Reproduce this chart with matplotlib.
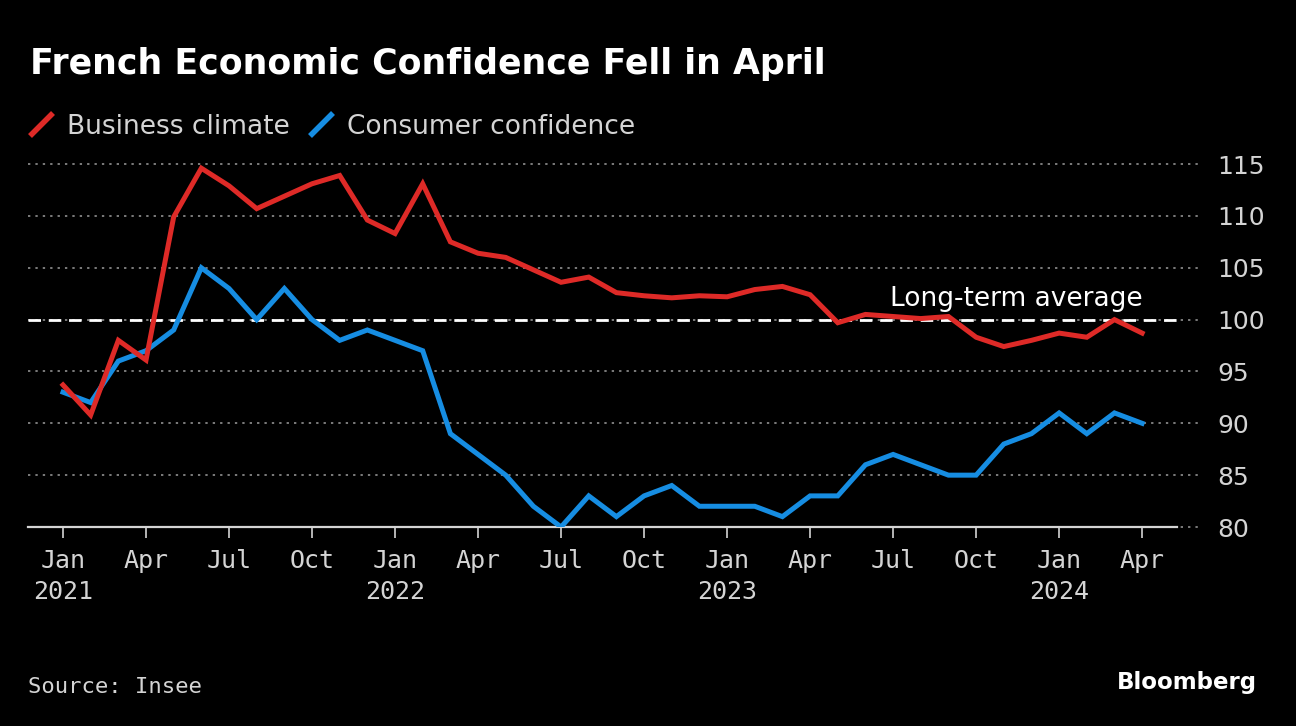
import matplotlib
matplotlib.use("Agg")
import matplotlib.pyplot as plt
from matplotlib.lines import Line2D
import numpy as np

# monthly readings, Jan 2021 .. Apr 2024
business = [93.7, 90.8, 98.0, 96.1, 109.9, 114.6, 112.9, 110.7, 111.9, 113.1,
            113.9, 109.6, 108.3, 113.1, 107.5, 106.4, 106.0, 104.8, 103.6, 104.1,
            102.6, 102.3, 102.1, 102.3, 102.2, 102.9, 103.2, 102.4, 99.7, 100.5,
            100.3, 100.1, 100.3, 98.3, 97.4, 98.0, 98.7, 98.3, 100.0, 98.7]
consumer = [93, 92, 96, 97, 99, 105, 103, 100, 103, 100,
            98, 99, 98, 97, 89, 87, 85, 82, 80, 83,
            81, 83, 84, 82, 82, 82, 81, 83, 83, 86,
            87, 86, 85, 85, 88, 89, 91, 89, 91, 90]
long_term_avg = 100
tick_labels = ["Jan\n2021", "Apr", "Jul", "Oct", "Jan\n2022", "Apr", "Jul", "Oct",
               "Jan\n2023", "Apr", "Jul", "Oct", "Jan\n2024", "Apr"]
y_ticks = [80, 85, 90, 95, 100, 105, 110, 115]

RED = "#de2a27"
BLUE = "#168de2"
GREY = "#d4d4d4"

W, H = 1296, 726
fig = plt.figure(figsize=(W / 100, H / 100), dpi=100, facecolor="black")
ax = fig.add_axes([28 / W, 1 - 527 / H, (1177 - 28) / W, (527 - 153.7) / H])
ax.set_facecolor("black")

x = np.arange(len(business))

# grid (runs a little past the plot on the right)
for yv in y_ticks:
    ax.axhline(yv, xmin=0, xmax=1.022, color="#7c7c7c", lw=1.4,
               dashes=(1.2, 2.6), clip_on=False, zorder=1)
ax.axhline(long_term_avg, color="white", lw=2.0, dashes=(4.5, 2.8), zorder=2)

ax.plot(x, consumer, color=BLUE, lw=3.6, solid_joinstyle="miter", zorder=3)
ax.plot(x, business, color=RED, lw=3.6, solid_joinstyle="miter", zorder=4)

ax.text(len(business) - 1, long_term_avg + 0.7, "Long-term average", ha="right",
        va="bottom", color="white", fontsize=19, family="DejaVu Sans", zorder=5)

ax.set_xlim(-1.265, 40.26)
ax.set_ylim(80, 116)

for s in ["top", "left", "right"]:
    ax.spines[s].set_visible(False)
ax.spines["bottom"].set_color(GREY)
ax.spines["bottom"].set_linewidth(1.6)
ax.spines["bottom"].set_zorder(2)

ax.set_xticks(x[::3])
ax.set_xticklabels(tick_labels, family="DejaVu Sans Mono", fontsize=18,
                   color=GREY, linespacing=1.35)
ax.tick_params(axis="x", length=8, width=1.2, color=GREY, pad=8)

ax.yaxis.tick_right()
ax.set_yticks(y_ticks)
ax.set_yticklabels([str(v) for v in y_ticks], fontsize=18, color=GREY)
for lab in ax.get_yticklabels():
    lab.set_horizontalalignment("left")
ax.tick_params(axis="y", length=0, pad=29)

# title and legend
fig.text(30 / W, 1 - 74 / H, "French Economic Confidence Fell in April",
         color="white", fontsize=25, fontweight="bold", va="baseline")

legend = [("Business climate", RED, 30), ("Consumer confidence", BLUE, 310)]
for label, col, px in legend:
    fig.add_artist(Line2D([px / W, (px + 23) / W], [1 - 136 / H, 1 - 113 / H],
                          color=col, lw=4, solid_capstyle="butt"))
    fig.text((px + 37) / W, 1 - 134 / H, label, color=GREY, fontsize=19,
             va="baseline")

fig.text(28 / W, 1 - 693 / H, "Source: Insee", family="DejaVu Sans Mono",
         fontsize=16, color=GREY, va="baseline")
fig.text(1257 / W, 1 - 689 / H, "Bloomberg", color="white", fontsize=16.5,
         fontweight="bold", ha="right", va="baseline")

fig.savefig("out.png", dpi=100, facecolor="black")
